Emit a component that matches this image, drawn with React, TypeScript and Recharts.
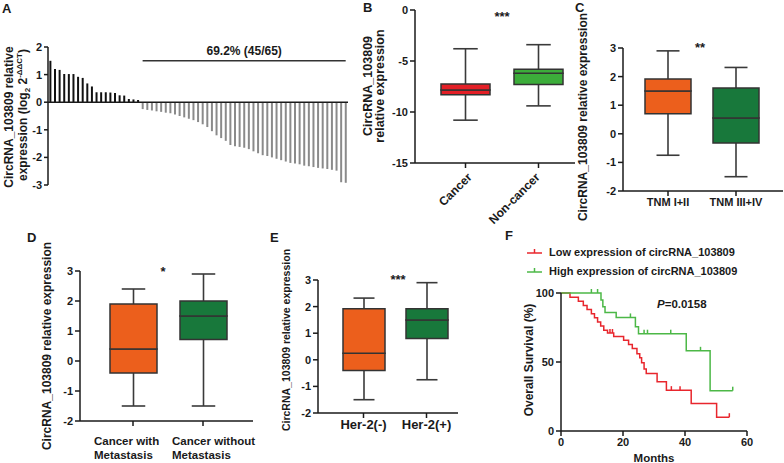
import React from 'react';
import {
  BarChart, Bar, Cell, XAxis, YAxis, ReferenceLine,
  ComposedChart, Line, Scatter, Legend,
} from 'recharts';

// ---- panel A: waterfall of relative expression (65 samples)
const positiveValues = [1.5, 1.2, 1.17, 1.02, 1.02, 1.02, 0.92, 0.88, 0.68, 0.57, 0.36, 0.36, 0.36, 0.35, 0.33, 0.25, 0.24, 0.12, 0.1, 0.08];
const negativeValues = [
  -0.25, -0.28, -0.3, -0.33, -0.35, -0.38, -0.4, -0.45, -0.5, -0.55, -0.6, -0.65, -0.72, -0.8, -0.9,
  -1.05, -1.2, -1.3, -1.4, -1.55, -1.6, -1.62, -1.65, -1.7, -1.78, -1.85, -1.92, -1.95, -2.0, -2.05,
  -2.1, -2.15, -2.2, -2.22, -2.25, -2.3, -2.32, -2.35, -2.38, -2.4, -2.42, -2.45, -2.48, -2.9, -2.92,
];
const waterfallTicks = [-3, -2, -1, 0, 1, 2];

// ---- panel B
const bCats = ['Cancer', 'Non-cancer'];
const bMin = [-10.8, -9.4];
const bQ1 = [-8.3, -7.3];
const bMed = [-7.85, -6.2];
const bQ3 = [-7.25, -5.8];
const bMax = [-3.8, -3.4];

// ---- panel C
const cCats = ['TNM I+II', 'TNM III+IV'];
const cMin = [-0.75, -1.5];
const cQ1 = [0.7, -0.32];
const cMed = [1.5, 0.55];
const cQ3 = [1.92, 1.6];
const cMax = [2.9, 2.32];

// ---- panel D
const dCats = ['Cancer with\nMetastasis', 'Cancer without\nMetastasis'];
const dMin = [-1.5, -1.5];
const dQ1 = [-0.4, 0.72];
const dMed = [0.4, 1.5];
const dQ3 = [1.9, 2.0];
const dMax = [2.4, 2.9];

// ---- panel E
const eCats = ['Her-2(-)', 'Her-2(+)'];
const eMin = [-1.5, -0.75];
const eQ1 = [-0.4, 0.8];
const eMed = [0.25, 1.5];
const eQ3 = [1.92, 1.92];
const eMax = [2.32, 2.9];

const smallTicks = [-2, -1, 0, 1, 2, 3];

// ---- panel F: Kaplan-Meier steps (months, % survival)
const kmNames = ['Low expression of circRNA_103809', 'High expression of circRNA_103809'];
const lowMonths = [0, 2.9, 5.6, 7.2, 8.4, 9.8, 10.8, 11.8, 12.8, 13.8, 15, 17, 20.2, 21.8, 23, 24.5, 25.4, 26, 26.8, 27.5, 31, 34, 42, 50.2, 54.3];
const lowSurv = [100, 97, 94, 91, 88, 85, 82, 79, 76, 73, 71, 68.5, 65.8, 62.6, 59.8, 56, 53, 49.4, 45, 41.7, 35.7, 29.6, 20, 10, 10];
const lowCensorMonths = [15.8, 16.6, 35.6, 38.4, 54.3];
const lowCensorSurv = [71, 71, 29.6, 29.6, 10];

const highMonths = [0, 12.9, 13.5, 14.2, 17.8, 24, 25, 40.4, 48.1, 55.4];
const highSurv = [100, 95, 90, 85.8, 82.3, 75.5, 70.5, 58.1, 29.2, 29.2];
const highCensorMonths = [9.8, 11.8, 22.4, 26.8, 27.9, 35.4, 45, 55.4];
const highCensorSurv = [100, 100, 82.3, 70.5, 70.5, 70.5, 58.1, 29.2];

const INK = '#1a1a1a';
const RED = '#e31f26';
const LIGHT_GREEN = '#3cad3a';
const ORANGE = '#ec5f1c';
const DARK_GREEN = '#18783b';
const KM_RED = '#e8262d';
const KM_GREEN = '#4cb847';

const axisStyle = { stroke: INK, strokeWidth: 1.5 };
const tickFont = { fontSize: 11, fontWeight: 700, fill: INK };

const waterfallData = [...positiveValues, ...negativeValues].map((v, i) => ({ id: `S${i + 1}`, v }));

const toBoxRows = (cats: string[], min: number[], q1: number[], med: number[], q3: number[], max: number[]) =>
  cats.map((name, i) => ({ name, whisker: [min[i], max[i]], lower: [q1[i], med[i]], upper: [med[i], q3[i]] }));

const toSteps = (months: number[], surv: number[]) => months.map((m, i) => ({ m, s: surv[i] }));

const Whisker = (props: any) => {
  const { x, y, width, height } = props;
  const cx = x + width / 2;
  const top = Math.min(y, y + height);
  const bottom = Math.max(y, y + height);
  const half = width * 0.25;
  return (
    <g stroke="#3a3a3a" strokeWidth={1.6}>
      <line x1={cx} x2={cx} y1={top} y2={bottom} />
      <line x1={cx - half} x2={cx + half} y1={top} y2={top} />
      <line x1={cx - half} x2={cx + half} y1={bottom} y2={bottom} />
    </g>
  );
};

const CensorTick = (props: any) => {
  const { cx, cy, color } = props;
  return <line x1={cx} x2={cx} y1={cy - 4} y2={cy} stroke={color} strokeWidth={1.5} />;
};

const slantOffsets = [7, 2];
const SlantTick = (props: any) => {
  const { x, y, payload, index } = props;
  const px = x + slantOffsets[index];
  const py = y + 8;
  return (
    <text x={px} y={py} transform={`rotate(-45 ${px} ${py})`} textAnchor="end" fontSize={12} fontWeight={700} fill={INK}>
      {payload.value}
    </text>
  );
};

const twoLineOffsets = [-39, -31];
const TwoLineTick = (props: any) => {
  const { x, y, payload, index } = props;
  const lines = String(payload.value).split('\n');
  return (
    <text x={x + twoLineOffsets[index]} y={y + 17} fontSize={11.5} fontWeight={700} fill={INK}>
      {lines.map((l, i) => (
        <tspan key={i} x={x + twoLineOffsets[index]} dy={i === 0 ? 0 : 14}>{l}</tspan>
      ))}
    </text>
  );
};

const KmLegend = (props: any) => {
  const entries = (props.payload || [])
    .filter((e: any) => kmNames.includes(e.value))
    .sort((a: any, b: any) => kmNames.indexOf(a.value) - kmNames.indexOf(b.value));
  return (
    <div>
      {entries.map((e: any) => (
        <div key={e.value} style={{ display: 'flex', alignItems: 'center', height: 18.5 }}>
          <svg width={16} height={10}>
            <line x1={0} x2={15} y1={6} y2={6} stroke={e.color} strokeWidth={1.5} />
            <line x1={7.5} x2={7.5} y1={2} y2={6} stroke={e.color} strokeWidth={1.5} />
          </svg>
          <span style={{ marginLeft: 6, fontSize: 11, fontWeight: 700, color: INK, whiteSpace: 'nowrap' }}>{e.value}</span>
        </div>
      ))}
    </div>
  );
};

interface BoxPanelProps {
  left: number; top: number; width: number; height: number;
  margin: { top: number; right: number; bottom: number; left: number };
  yWidth: number; xHeight: number;
  padding: { left: number; right: number };
  domain: [number, number]; ticks: number[];
  rows: any[]; colors: string[]; boxSize: number;
  tick?: any;
}

const BoxPanel: React.FC<BoxPanelProps> = ({ left, top, width, height, margin, yWidth, xHeight, padding, domain, ticks, rows, colors, boxSize, tick }) => (
  <div style={{ position: 'absolute', left, top }}>
    <BarChart width={width} height={height} data={rows} margin={margin} barGap={-boxSize}>
      <XAxis dataKey="name" height={xHeight} padding={padding} axisLine={axisStyle} tickLine={axisStyle}
        tickSize={5} tick={tick || tickFont} interval={0} />
      <YAxis type="number" width={yWidth} domain={domain} ticks={ticks} allowDataOverflow axisLine={axisStyle}
        tickLine={axisStyle} tickSize={5} tick={tickFont} />
      <Bar dataKey="whisker" barSize={boxSize} shape={<Whisker />} isAnimationActive={false} />
      <Bar dataKey="lower" barSize={boxSize} stroke="#333" strokeWidth={1.5} isAnimationActive={false}>
        {rows.map((r, i) => <Cell key={r.name} fill={colors[i]} />)}
      </Bar>
      <Bar dataKey="upper" barSize={boxSize} stroke="#333" strokeWidth={1.5} isAnimationActive={false}>
        {rows.map((r, i) => <Cell key={r.name} fill={colors[i]} />)}
      </Bar>
    </BarChart>
  </div>
);

const VTitle = ({ x, y, size, children }: any) => (
  <text x={x} y={y} transform={`rotate(-90 ${x} ${y})`} textAnchor="middle" fontSize={size} fontWeight={700} fill={INK}>
    {children}
  </text>
);

const Letter = ({ x, y, children }: any) => (
  <text x={x} y={y} fontSize={13} fontWeight={700} fill={INK}>{children}</text>
);

const App: React.FC = () => {
  return (
    <div style={{ position: 'absolute', left: 0, top: 0, width: 784, height: 463, background: '#fff', fontFamily: '"Liberation Sans", Arial, sans-serif' }}>
      {/* A */}
      <div style={{ position: 'absolute', left: 0, top: 0 }}>
        <BarChart width={360} height={200} data={waterfallData} margin={{ top: 47, right: 12, bottom: 15, left: 0 }} barCategoryGap="30%">
          <XAxis dataKey="id" hide />
          <YAxis type="number" width={48} domain={[-3, 2]} ticks={waterfallTicks} axisLine={axisStyle} tickLine={axisStyle}
            tickSize={4} tick={tickFont} />
          <Bar dataKey="v" isAnimationActive={false}>
            {waterfallData.map((d) => <Cell key={d.id} fill={d.v >= 0 ? '#111' : '#8a8a8a'} />)}
          </Bar>
          <ReferenceLine y={0} stroke={INK} strokeWidth={1.5} />
          <ReferenceLine
            segment={[{ x: waterfallData[positiveValues.length].id, y: 1.5 }, { x: waterfallData[waterfallData.length - 1].id, y: 1.5 }]}
            stroke="#333" strokeWidth={1.5}
            label={{ value: '69.2% (45/65)', position: 'top', fontSize: 12, fontWeight: 700, fill: INK, offset: 6 }}
          />
        </BarChart>
      </div>

      {/* B */}
      <BoxPanel left={345} top={0} width={240} height={230} margin={{ top: 10, right: 10, bottom: 7, left: 0 }}
        yWidth={70} xHeight={60} padding={{ left: 14, right: 0 }} domain={[-15, 0]} ticks={[-15, -10, -5, 0]}
        rows={toBoxRows(bCats, bMin, bQ1, bMed, bQ3, bMax)} colors={[RED, LIGHT_GREEN]} boxSize={49} tick={<SlantTick />} />

      {/* C */}
      <BoxPanel left={560} top={0} width={224} height={230} margin={{ top: 48, right: 1, bottom: 9, left: 0 }}
        yWidth={63} xHeight={30} padding={{ left: 11, right: 13 }} domain={[-2, 3]} ticks={smallTicks}
        rows={toBoxRows(cCats, cMin, cQ1, cMed, cQ3, cMax)} colors={[ORANGE, DARK_GREEN]} boxSize={46} />

      {/* D */}
      <BoxPanel left={0} top={230} width={270} height={233} margin={{ top: 41, right: 17, bottom: 2, left: 0 }}
        yWidth={80} xHeight={40} padding={{ left: 18, right: 15 }} domain={[-2, 3]} ticks={smallTicks}
        rows={toBoxRows(dCats, dMin, dQ1, dMed, dQ3, dMax)} colors={[ORANGE, DARK_GREEN]} boxSize={47} tick={<TwoLineTick />} />

      {/* E */}
      <BoxPanel left={270} top={230} width={190} height={233} margin={{ top: 50, right: 2, bottom: 10, left: 0 }}
        yWidth={48} xHeight={40} padding={{ left: 14, right: 0 }} domain={[-2, 3]} ticks={smallTicks}
        rows={toBoxRows(eCats, eMin, eQ1, eMed, eQ3, eMax)} colors={[ORANGE, DARK_GREEN]} boxSize={42}
        tick={{ fontSize: 13, fontWeight: 700, fill: INK }} />

      {/* F */}
      <div style={{ position: 'absolute', left: 450, top: 230 }}>
        <ComposedChart width={334} height={233} margin={{ top: 63, right: 37, bottom: 2, left: 0 }}>
          <XAxis type="number" dataKey="m" domain={[0, 60]} ticks={[0, 20, 40, 60]} height={30} axisLine={axisStyle}
            tickLine={axisStyle} tickSize={5} tick={tickFont}
            label={{ value: 'Months', position: 'insideBottom', offset: -1, fontSize: 11.5, fontWeight: 700, fill: INK }} />
          <YAxis type="number" width={111} domain={[0, 100]} ticks={[0, 50, 100]} axisLine={axisStyle} tickLine={axisStyle}
            tickSize={5} tick={tickFont} />
          <Line data={toSteps(lowMonths, lowSurv)} dataKey="s" type="stepAfter" stroke={KM_RED} strokeWidth={1.5}
            dot={false} isAnimationActive={false} name={kmNames[0]} />
          <Line data={toSteps(highMonths, highSurv)} dataKey="s" type="stepAfter" stroke={KM_GREEN} strokeWidth={1.5}
            dot={false} isAnimationActive={false} name={kmNames[1]} />
          <Scatter data={toSteps(lowCensorMonths, lowCensorSurv)} dataKey="s" legendType="none"
            shape={<CensorTick color={KM_RED} />} isAnimationActive={false} />
          <Scatter data={toSteps(highCensorMonths, highCensorSurv)} dataKey="s" legendType="none"
            shape={<CensorTick color={KM_GREEN} />} isAnimationActive={false} />
          <Legend layout="vertical" verticalAlign="middle" align="center" content={<KmLegend />}
            wrapperStyle={{ top: 13, left: 77, width: 'auto' }} />
        </ComposedChart>
      </div>

      {/* titles and annotations */}
      <svg width={784} height={463} style={{ position: 'absolute', left: 0, top: 0, pointerEvents: 'none' }}>
        <Letter x={2} y={13}>A</Letter>
        <VTitle x={13} y={117} size={12}>CircRNA_103809 relative</VTitle>
        <VTitle x={27} y={115} size={12}>
          expression (log<tspan dy={3} fontSize={8}>2</tspan><tspan dy={-3}> 2</tspan>
          <tspan dy={-5} fontSize={8}>-ΔΔCT</tspan><tspan dy={5}>)</tspan>
        </VTitle>

        <Letter x={363} y={12}>B</Letter>
        <VTitle x={372} y={86} size={12.5}>CircRNA_103809</VTitle>
        <VTitle x={384} y={86} size={12.5}>relative expression</VTitle>
        <text x={502} y={21} textAnchor="middle" fontSize={13} fontWeight={700} fill={INK}>***</text>

        <Letter x={575} y={12}>C</Letter>
        <VTitle x={587} y={117} size={12}>CircRNA_103809 relative expression</VTitle>
        <text x={700} y={52} textAnchor="middle" fontSize={13} fontWeight={700} fill={INK}>**</text>

        <Letter x={27} y={242}>D</Letter>
        <VTitle x={51} y={346} size={12}>CircRNA_103809 relative expression</VTitle>
        <text x={163} y={276} textAnchor="middle" fontSize={13} fontWeight={700} fill={INK}>*</text>

        <Letter x={270} y={242}>E</Letter>
        <VTitle x={290} y={340} size={10.5}>CircRNA_103809 relative expression</VTitle>
        <text x={398} y={284} textAnchor="middle" fontSize={13} fontWeight={700} fill={INK}>***</text>

        <Letter x={505} y={240}>F</Letter>
        <VTitle x={533} y={360} size={12}>Overall Survival (%)</VTitle>
        <text x={657} y={308} fontSize={11.5} fontWeight={700} fill={INK}>
          <tspan fontStyle="italic">P</tspan>=0.0158
        </text>
      </svg>
    </div>
  );
};

export default App;
